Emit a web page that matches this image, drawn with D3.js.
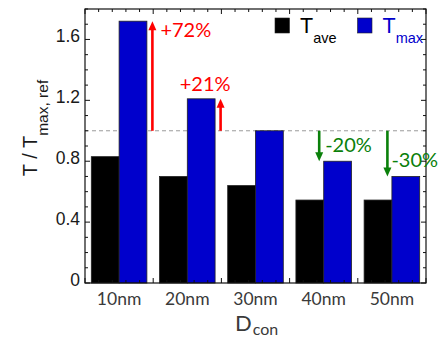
<!DOCTYPE html>
<html>
<head>
<meta charset="utf-8">
<script src="https://cdn.jsdelivr.net/npm/d3@7"></script>
<style>
  html, body { margin: 0; padding: 0; background: #fff; }
  svg { display: block; }
</style>
</head>
<body>
<div id="chart"></div>
<script>
// Contact diameter categories and normalised temperatures
const categories = ["10nm", "20nm", "30nm", "40nm", "50nm"];
const tAve = [0.83, 0.70, 0.64, 0.545, 0.545];
const tMax = [1.72, 1.21, 1.00, 0.80, 0.70];
const seriesKeys = ["ave", "max"];
const yTickValues = [0, 0.4, 0.8, 1.2, 1.6];
const yTickLabels = ["0", "0.4", "0.8", "1.2", "1.6"];
const refLevel = 1.0;
const changeLabels = ["+72%", "+21%", null, "-20%", "-30%"];

const W = 441, H = 339;
const margin = { top: 9, right: 15, bottom: 56, left: 85 };
const x0 = margin.left, x1 = W - margin.right;
const yTop = margin.top, yBot = H - margin.bottom;

const colors = { ave: "#000000", max: "#0000cc" };
const sansFont = "'Liberation Sans', Arial, Helvetica, sans-serif";
const humanFont = "Lato, 'Open Sans', sans-serif";

const svg = d3.select("#chart").append("svg")
  .attr("width", W).attr("height", H);

const x = d3.scaleBand().domain(categories).range([x0, x1])
  .paddingInner(0.185).paddingOuter(0.0925);
const xs = d3.scaleBand().domain(seriesKeys).range([0, x.bandwidth()]);
const y = d3.scaleLinear().domain([0, 1.8]).range([yBot, yTop]);

const rows = categories.map((c, i) => ({ cat: c, ave: tAve[i], max: tMax[i], label: changeLabels[i] }));

// Reference level (dashed)
svg.append("line")
  .attr("x1", x0).attr("x2", x1)
  .attr("y1", y(refLevel)).attr("y2", y(refLevel))
  .attr("stroke", "#9a9a9a").attr("stroke-width", 1)
  .attr("stroke-dasharray", "4,3");

// Bars
const groups = svg.append("g").selectAll("g").data(rows).join("g")
  .attr("transform", d => `translate(${x(d.cat)},0)`);
groups.selectAll("rect")
  .data(d => seriesKeys.map(k => ({ key: k, value: d[k] })))
  .join("rect")
  .attr("x", d => xs(d.key))
  .attr("width", xs.bandwidth())
  .attr("y", d => y(d.value))
  .attr("height", d => yBot - y(d.value))
  .attr("fill", d => colors[d.key])
  .attr("stroke", "#222").attr("stroke-width", 0.8);

// Frame with inward ticks
const frame = svg.append("g").attr("stroke", "#111").attr("fill", "none");
frame.append("rect").attr("x", x0).attr("y", yTop)
  .attr("width", x1 - x0).attr("height", yBot - yTop).attr("stroke-width", 1.2);

const step = x.step();
const xMinor = d3.range(0, 5 * 5 + 1).map(k => x0 + k * step / 5);
xMinor.forEach((px, k) => {
  const len = (k % 5 === 0) ? 5 : 3;
  frame.append("line").attr("x1", px).attr("x2", px)
    .attr("y1", yBot).attr("y2", yBot - len).attr("stroke-width", 1);
  frame.append("line").attr("x1", px).attr("x2", px)
    .attr("y1", yTop).attr("y2", yTop + len).attr("stroke-width", 1);
});
d3.range(0, 18.5, 1).forEach(k => {
  const v = k / 10;
  const len = (k % 4 === 0) ? 5 : 3;
  const py = y(v);
  frame.append("line").attr("x1", x0).attr("x2", x0 + len)
    .attr("y1", py).attr("y2", py).attr("stroke-width", 1);
  frame.append("line").attr("x1", x1).attr("x2", x1 - len)
    .attr("y1", py).attr("y2", py).attr("stroke-width", 1);
});

// Y tick labels
svg.append("g").selectAll("text").data(yTickValues).join("text")
  .attr("x", x0 - 5).attr("y", d => y(d) + 2.5)
  .attr("text-anchor", "end")
  .attr("font-family", sansFont).attr("font-size", 17.5)
  .attr("fill", "#1a1a1a")
  .text((d, i) => yTickLabels[i]);

// X tick labels
svg.append("g").selectAll("text").data(categories).join("text")
  .attr("x", d => x(d) + x.bandwidth() / 2).attr("y", 305)
  .attr("text-anchor", "middle")
  .attr("font-family", humanFont).attr("font-size", 17.5)
  .attr("fill", "#3a3a3a")
  .text(d => d);

// Axis titles
const yTitle = svg.append("text")
  .attr("transform", "translate(37,128) rotate(-90)")
  .attr("text-anchor", "middle")
  .attr("font-family", sansFont).attr("fill", "#1a1a1a");
yTitle.append("tspan").attr("font-size", 20).text("T / T");
yTitle.append("tspan").attr("font-size", 15.5).attr("dy", 11).text("max, ref");

const xTitle = svg.append("text")
  .attr("x", 235).attr("y", 331)
  .attr("font-family", humanFont).attr("fill", "#3a3a3a");
xTitle.append("tspan").attr("font-size", 22).text("D");
xTitle.append("tspan").attr("font-size", 16).attr("dy", 4).attr("dx", 1).text("con");

// Legend
const legendPos = { ave: 275, max: 357.5 };
seriesKeys.forEach(k => {
  const lx = legendPos[k];
  svg.append("rect").attr("x", lx).attr("y", 18).attr("width", 14.5).attr("height", 15)
    .attr("fill", colors[k]).attr("stroke", "#222").attr("stroke-width", 0.6);
  const t = svg.append("text").attr("x", lx + 25).attr("y", 33)
    .attr("font-family", sansFont).attr("fill", colors[k]);
  t.append("tspan").attr("font-size", 21.5).text("T");
  t.append("tspan").attr("font-size", 14.5).attr("dy", 10).text(k);
});

// Change arrows from the reference level to each peak value
const arrowLayer = svg.append("g");
rows.forEach((d, i) => {
  if (!d.label) return;
  const up = d.max > refLevel;
  const color = up ? "#ff0000" : "#0a800a";
  const bx = x(d.cat) + xs("max");
  const ax = up ? bx + xs.bandwidth() + 5.5 : bx - 4.5;
  const y0 = y(refLevel), y1 = y(d.max);
  const head = 9, half = 4;
  const shaftEnd = up ? y1 + head - 1 : y1 - head + 1;
  arrowLayer.append("line").attr("x1", ax).attr("x2", ax)
    .attr("y1", y0).attr("y2", shaftEnd)
    .attr("stroke", color).attr("stroke-width", 2.6);
  const dir = up ? 1 : -1;
  arrowLayer.append("path")
    .attr("d", `M${ax},${y1} L${ax - half},${y1 + dir * head} L${ax + half},${y1 + dir * head} Z`)
    .attr("fill", color);

  // label placement for each annotation
  let tx, ty, anchor = "start";
  if (i === 0) { tx = ax + 8; ty = y1 + 15.5; }
  else if (i === 1) { tx = bx + xs.bandwidth() / 2 + 4; ty = y1 - 8; anchor = "middle"; }
  else if (i === 3) { tx = ax + 6; ty = y0 + 21.5; }
  else { tx = ax + 4; ty = y0 + 36.5; }
  arrowLayer.append("text").attr("x", tx).attr("y", ty)
    .attr("text-anchor", anchor)
    .attr("font-family", humanFont).attr("font-size", 20)
    .attr("fill", color).text(d.label);
});
</script>
</body>
</html>
